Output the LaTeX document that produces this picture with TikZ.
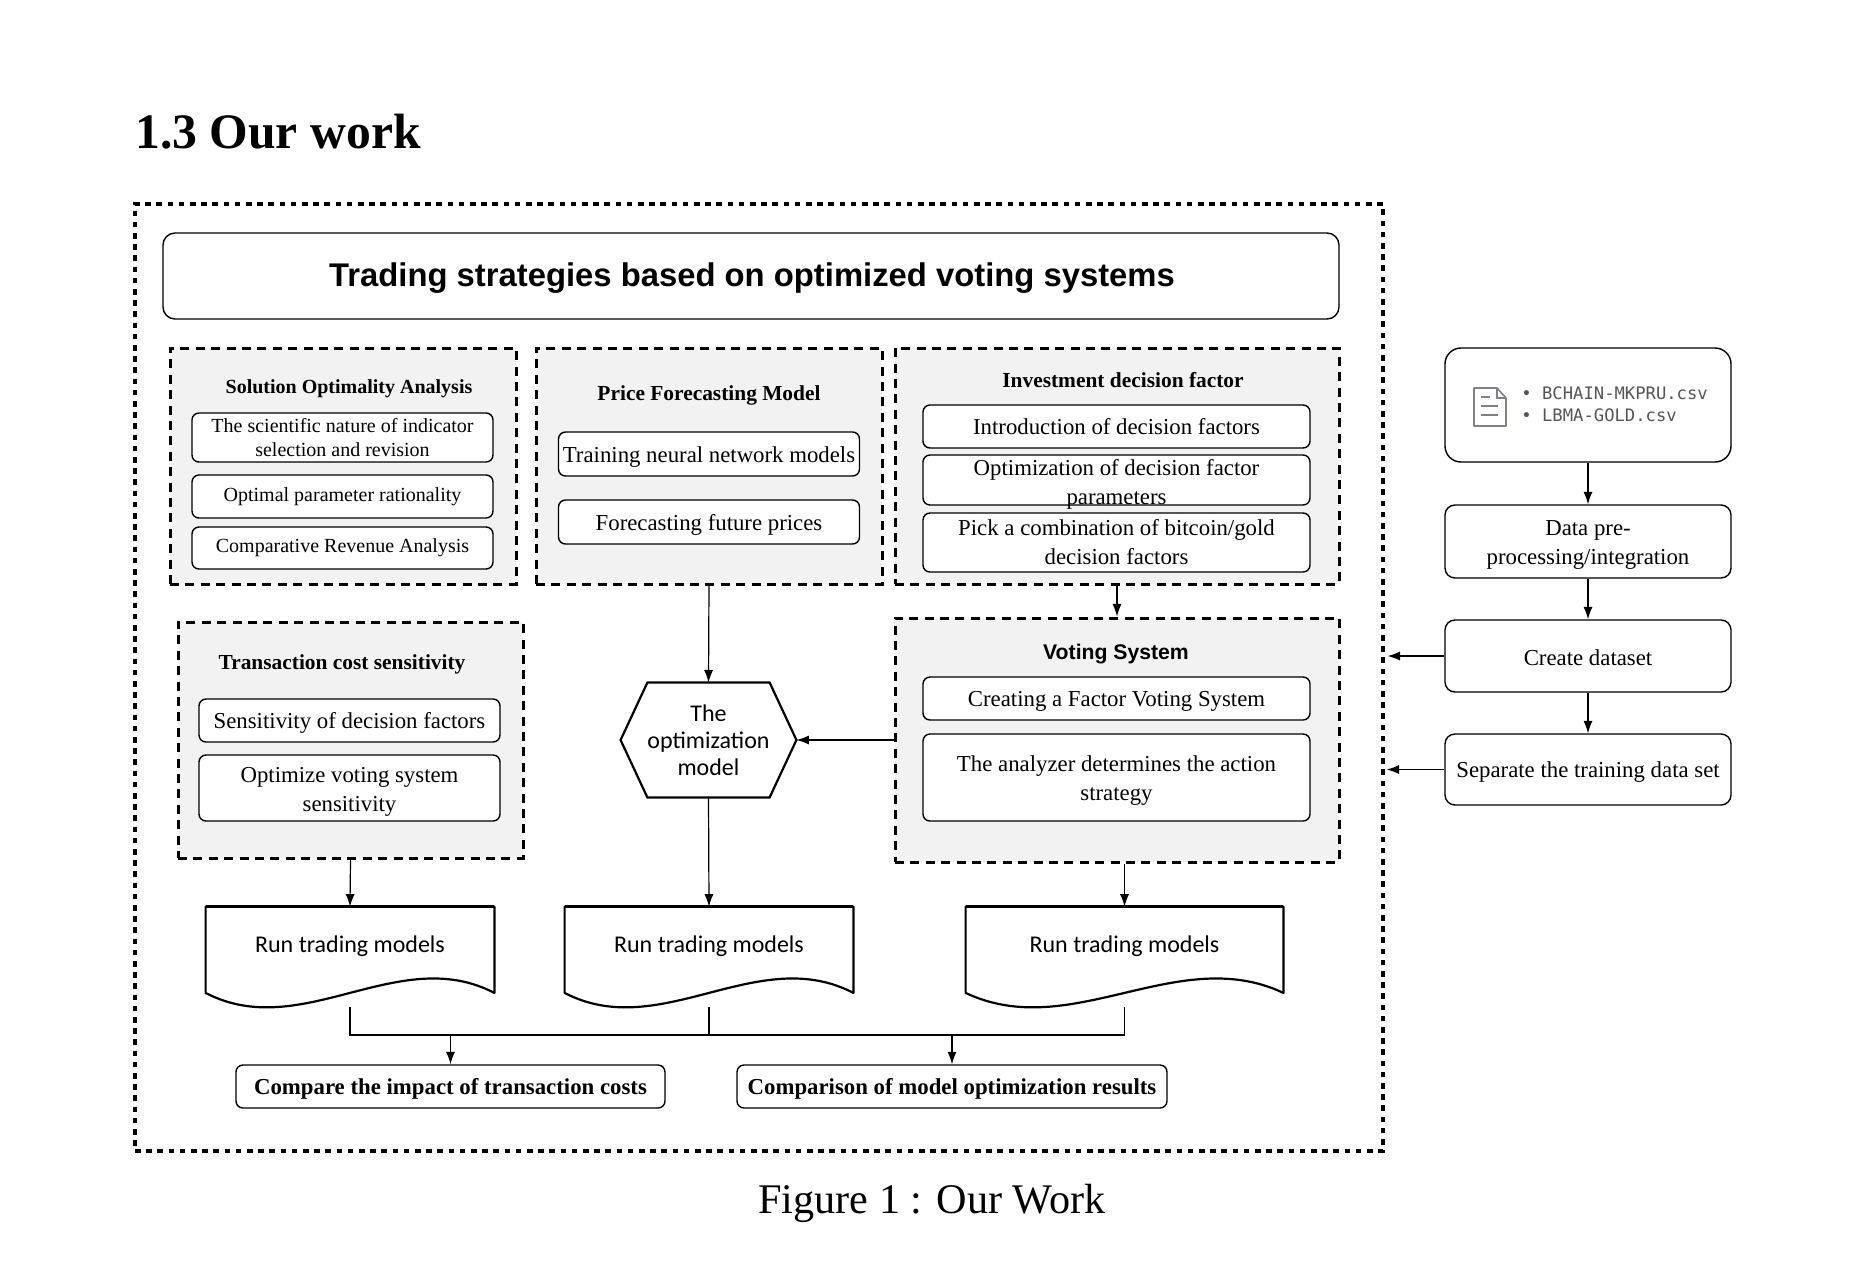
\documentclass[tikz,border=0pt]{standalone}
\usepackage{fontspec}
\setmainfont{Liberation Serif}
\newfontfamily\titlefont{Liberation Sans}
\newfontfamily\handfont{Carlito}
\newfontfamily\filefont{DejaVu Sans Mono}
\usetikzlibrary{arrows.meta,calc,shapes.symbols}
\definecolor{groupgray}{HTML}{F2F2F2}
\definecolor{filegray}{HTML}{555555}
\definecolor{icongray}{HTML}{808088}
\tikzset{
  wh/.style 2 args={minimum width=#1*0.5pt,minimum height=#2*0.5pt},
  lowtext/.style={execute at begin node={\rule{0pt}{#1}}},
  groupbox/.style={draw,fill=groupgray,line width=1.5pt,dash pattern=on 4.5pt off 3.2pt,inner sep=0pt},
  basebox/.style={draw,fill=white,rounded corners=3.5pt,line width=0.7pt,align=center,inner sep=0pt,font=\fontsize{11.4}{14.5}\selectfont},
  subbox/.style={basebox,lowtext=10.8pt},
  twoline/.style={align=center,inner sep=0pt,font=\fontsize{11.4}{14.5}\selectfont},
  smallsub/.style={basebox,font=\fontsize{10}{12}\selectfont},
  grouptitle/.style={font=\fontsize{10.7}{12}\selectfont\bfseries},
  docnode/.style={inner sep=0pt},
  docline/.style={line width=1.1pt,line join=round},
  flow/.style={->,line width=0.6pt}
}
\begin{document}
\begin{tikzpicture}[x=0.5pt,y=-0.5pt,>={Latex[length=2.2mm,width=1.6mm]}]
  \useasboundingbox (0,0) rectangle (1868,1270);
  \node[anchor=base west,inner sep=0pt,font=\fontsize{24.8}{30}\selectfont\bfseries] (heading) at (135,148) {1.3 Our work};
  \node[wh={1248}{947},draw,line width=1.6pt,dash pattern=on 2.8pt off 2.8pt,inner sep=0pt] (frame) at (759,677.5) {};
  \node[wh={1176}{86},basebox,rounded corners=6pt] (title) at (751,276) {};
  \node[font=\fontsize{16.4}{19}\titlefont\bfseries] (titleT) at (752,278) {Trading strategies based on optimized voting systems};

  % bloque izq arriba
  \node[wh={346}{236},groupbox] (solution) at (343,466) {};
  \node[grouptitle,font=\fontsize{10}{12}\selectfont\bfseries] (solutionT) at (349,388.5) {Solution Optimality Analysis};
  \node[wh={301}{49},smallsub] (solA) at (342.5,437.5) {The scientific nature of indicator\\selection and revision};
  \node[wh={301}{43},smallsub] (solB) at (342.5,496.5) {Optimal parameter rationality};
  \node[wh={301}{42},smallsub] (solC) at (342.5,548) {Comparative Revenue Analysis};

  % bloque centro arriba
  \node[wh={346}{236},groupbox] (price) at (709,466) {};
  \node[grouptitle] (priceT) at (709,395) {Price Forecasting Model};
  \node[wh={301}{44},subbox] (priceA) at (709,454) {Training neural network models};
  \node[wh={301}{44},subbox] (priceB) at (709,522) {Forecasting future prices};

  % bloque der arriba
  \node[wh={444}{236},groupbox] (invest) at (1117,466) {};
  \node[grouptitle] (investT) at (1123,380) {Investment decision factor};
  \node[wh={387}{43},basebox] (invA) at (1116.5,426.5) {Introduction of decision factors};
  \node[wh={387}{50},basebox] (invB) at (1116.5,480) {};
  \node[twoline] (invBT) at (1116.5,484) {Optimization of decision factor\\parameters};
  \node[wh={387}{59},subbox] (invC) at (1116.5,542.5) {Pick a combination of bitcoin/gold\\decision factors};

  % costes de transaccion
  \node[wh={345}{236},groupbox] (trans) at (350.5,740) {};
  \node[grouptitle] (transT) at (342,664) {Transaction cost sensitivity};
  \node[wh={301}{43},subbox] (transA) at (349.5,720.5) {Sensitivity of decision factors};
  \node[wh={301}{66},basebox] (transB) at (349.5,788) {};
  \node[twoline] (transBT) at (349.5,791.5) {Optimize voting system\\sensitivity};

  % sistema de voto
  \node[wh={444}{244},groupbox] (voting) at (1117,740) {};
  \node[font=\fontsize{10.6}{12}\titlefont\bfseries] (votingT) at (1116,654) {Voting System};
  \node[wh={387}{43},subbox] (votA) at (1116.5,698.5) {Creating a Factor Voting System};
  \node[wh={387}{87},basebox] (votB) at (1116.5,777.5) {};
  \node[twoline] (votBT) at (1116.5,781) {The analyzer determines the action\\strategy};

  % modelo central
  \node[shape=signal,signal to=west and east,signal pointer angle=130,wh={171}{115},draw,line width=1.1pt,outer sep=0pt,inner sep=0pt,align=center,font=\fontsize{12}{13.5}\handfont] (hexmodel) at (708.5,740) {The\\optimization\\model};

  % documentos
  \node[wh={288}{100},docnode] (docA) at (350,957) {};
  \node[wh={288}{100},docnode] (docB) at (709,957) {};
  \node[wh={317}{100},docnode] (docC) at (1124.5,957) {};
  \foreach \docname in {docA,docB,docC}{
    \draw[docline] (\docname.north west) -- ($(\docname.south west)+(0,-14.5)$)
      .. controls ($(\docname.south west)!0.333!(\docname.south east)+(0,35.5)$) and ($(\docname.south west)!0.667!(\docname.south east)+(0,-64.5)$) .. ($(\docname.south east)+(0,-14.5)$)
      -- (\docname.north east) -- cycle;
    \draw[line width=1.6pt] (\docname.north west) -- (\docname.north east);
    \node[font=\fontsize{12}{14}\handfont] (\docname T) at ($(\docname.center)+(0,-11)$) {Run trading models};
  }

  % resultados
  \node[wh={429}{43},subbox,font=\fontsize{11.4}{13}\selectfont\bfseries] (cmpA) at (450.5,1086.5) {Compare the impact of transaction costs};
  \node[wh={430}{43},subbox,font=\fontsize{11.4}{13}\selectfont\bfseries] (cmpB) at (952,1086.5) {Comparison of model optimization results};

  % columna derecha
  \node[wh={286}{114},basebox,rounded corners=8pt] (files) at (1588,405) {};
  \node[anchor=west,inner sep=0pt,align=left,text=filegray,font=\fontsize{8.6}{11}\filefont] (filesT) at (1521,404) {• BCHAIN-MKPRU.csv\\• LBMA-GOLD.csv};
  \draw[icongray,line width=0.8pt,line join=round] (1474,388) -- (1497,388) -- (1506,398) -- (1506,426) -- (1474,426) -- cycle;
  \draw[icongray,line width=0.7pt] (1497,388) -- (1497,398) -- (1506,398);
  \draw[icongray,line width=0.7pt] (1481,397) -- (1490,397) (1481,406) -- (1498,406) (1481,415) -- (1498,415);
  \node[wh={286}{73},basebox,rounded corners=5pt] (prep) at (1588,541.5) {};
  \node[twoline] (prepT) at (1588,545) {Data pre-\\processing/integration};
  \node[wh={286}{72},basebox,lowtext=9.6pt,rounded corners=5pt] (create) at (1588,656) {Create dataset};
  \node[wh={286}{71},subbox,rounded corners=5pt] (separate) at (1588,769.5) {Separate the training data set};

  % flechas
  \draw[flow] (price.south) -- (hexmodel.north);
  \draw[flow] (hexmodel.south) -- (docB.north);
  \draw[flow] (voting.west) -- (hexmodel.east);
  \draw[flow] (invest.south) -- (voting.north);
  \draw[flow] (trans.south) -- (docA.north);
  \draw[flow] (docC.north |- voting.south) -- (docC.north);
  \coordinate (bus) at (0,1035);
  \draw[line width=0.6pt] (docA.south) -- (docA.south |- bus) -- (docC.south |- bus) -- (docC.south);
  \draw[line width=0.6pt] (docB.south) -- (docB.south |- bus);
  \draw[flow] (cmpA.north |- bus) -- (cmpA.north);
  \draw[flow] (cmpB.north |- bus) -- (cmpB.north);
  \draw[flow] (files.south) -- (prep.north);
  \draw[flow] (prep.south) -- (create.north);
  \draw[flow] (create.south) -- (separate.north);
  \draw[flow] (create.west) -- ([xshift=1.5pt]frame.east |- create.west);
  \draw[flow] (separate.west) -- ([xshift=1pt]frame.east |- separate.west);

  \node[font=\fontsize{21.1}{26}\selectfont] (caption) at (932,1203) {Figure 1 : Our Work};
\end{tikzpicture}
\end{document}
